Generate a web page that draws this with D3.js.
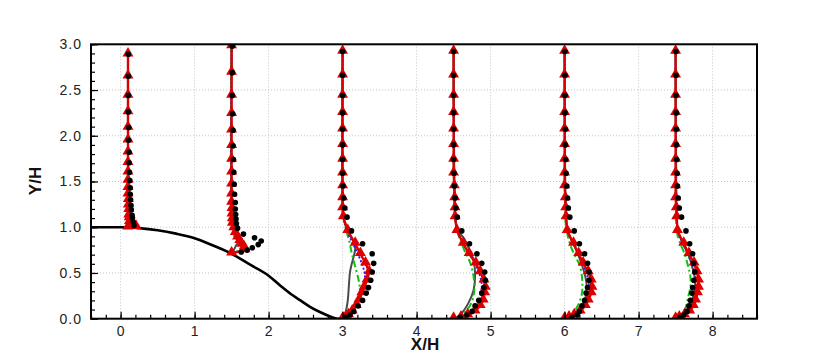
<!DOCTYPE html>
<html>
<head>
<meta charset="utf-8">
<script src="https://cdn.jsdelivr.net/npm/d3@7"></script>
<style>
	body { margin: 0; background: #fff; }
	.tick text { font-family: "Liberation Sans", Arial, sans-serif; font-size: 14px; fill: #222; letter-spacing: 1px; }
	.axlabel { font-family: "Liberation Sans", Arial, sans-serif; font-size: 17px; font-weight: bold; fill: #111; }
</style>
</head>
<body>
<script>
// Data ///////////////////////////////////////////////////////////

var stationX = [0.1, 1.5, 3, 4.5, 6, 7.5];

// hill surface
var hillX = [-0.4, 0, 0.25, 0.5, 0.75, 1.0, 1.25, 1.5, 1.75, 2.0, 2.16, 2.3, 2.43, 2.56, 2.7, 2.83, 2.93, 3.1];
var hillY = [1, 1, 0.99, 0.967, 0.93, 0.88, 0.80, 0.71, 0.59, 0.47, 0.36, 0.27, 0.20, 0.13, 0.07, 0.025, 0, 0];

// measured heights of the profile points
var yStation1 = [2.89, 2.65, 2.44, 2.26, 2.09, 1.95, 1.82, 1.705, 1.60, 1.51, 1.43, 1.36, 1.30, 1.24, 1.19, 1.13, 1.10, 1.06, 1.02, 1.005, 1.0];
var yStation2 = [2.98, 2.69, 2.44, 2.24, 2.06, 1.89, 1.74, 1.60, 1.47, 1.36, 1.27, 1.20, 1.14, 1.09, 1.04, 0.99, 0.94, 0.89, 0.85, 0.81, 0.78, 0.75, 0.715];
var yFlat = [2.92, 2.66, 2.44, 2.25, 2.07, 1.90, 1.74, 1.59, 1.45, 1.32, 1.21, 1.11, 0.96, 0.82, 0.71, 0.605, 0.51, 0.42, 0.34, 0.28, 0.20, 0.14, 0.08, 0.04, 0.015, 0];

// red solid line with triangles (offset from station)
var redY = [yStation1, yStation2, yFlat, yFlat, yFlat, yFlat];
var redDX = [
	[0,0,0,0,0,0,0,0,0,0,0,0,0.005,0.005,0.01,0.01,0.015,0.02,0.06,0.11,0],
	[0,0,0,0,0,0,0,0,0,0,0,0.005,0.005,0.01,0.01,0.03,0.05,0.08,0.11,0.14,0.17,0.18,0],
	[0,0,0,0,0,0,0,0,0,0,0,0.01,0.07,0.17,0.24,0.31,0.36,0.33,0.29,0.26,0.22,0.185,0.13,0.08,0.04,0],
	[0,0,0,0,0,0,0,0,0.01,0.015,0.02,0.02,0.045,0.13,0.21,0.30,0.36,0.41,0.43,0.42,0.40,0.36,0.29,0.19,0.10,0],
	[0,0,0,0,0,0,0,0,0,0.01,0.015,0.02,0.035,0.12,0.19,0.25,0.32,0.36,0.37,0.36,0.32,0.28,0.21,0.13,0.06,0],
	[0,0,0,0,0,0,0,0,0,0,0.01,0.015,0.025,0.11,0.18,0.25,0.29,0.31,0.31,0.295,0.27,0.24,0.19,0.12,0.05,0]
];

// black dots (reference data)
var dotY = [
	[2.89, 2.65, 2.44, 2.26, 2.09, 1.95, 1.82, 1.705, 1.60, 1.51, 1.43, 1.36, 1.30, 1.24, 1.19, 1.13, 1.10, 1.06, 1.02],
	[2.98, 2.69, 2.44, 2.24, 2.06, 1.89, 1.74, 1.60, 1.47, 1.36, 1.27, 1.20, 1.14, 1.09, 1.04, 0.99, 0.925, 0.885, 0.85, 0.81, 0.775, 0.75, 0.73],
	yFlat.slice(0, 25), yFlat.slice(0, 25), yFlat.slice(0, 25), yFlat.slice(0, 25)
];
var dotDX = [
	[0.005,0.005,0.005,0.005,0.01,0.01,0.015,0.015,0.02,0.025,0.03,0.03,0.035,0.04,0.045,0.055,0.06,0.07,0.08],
	[0.01,0.01,0.01,0.015,0.02,0.02,0.025,0.03,0.035,0.04,0.05,0.05,0.055,0.06,0.065,0.08,0.16,0.31,0.40,0.36,0.28,0.21,0.13],
	[0,0,0,0,0,0,0,0,0.005,0.015,0.03,0.06,0.12,0.27,0.40,0.42,0.40,0.38,0.35,0.32,0.27,0.21,0.15,0.10,0.04],
	[0,0,0,0,0,0,0,0.005,0.01,0.02,0.03,0.05,0.11,0.215,0.315,0.38,0.42,0.43,0.41,0.38,0.34,0.29,0.25,0.18,0.09],
	[0.005,0.005,0.005,0.005,0.01,0.01,0.015,0.02,0.03,0.04,0.05,0.07,0.13,0.20,0.27,0.31,0.33,0.33,0.31,0.29,0.27,0.235,0.20,0.17,0.10],
	[0.005,0.005,0.005,0.01,0.01,0.01,0.015,0.02,0.025,0.035,0.05,0.08,0.14,0.19,0.23,0.245,0.26,0.245,0.23,0.22,0.20,0.18,0.155,0.11,0.06]
];

// other models: [y, offset] per station
var greyLine = [
	[[2.89,0],[1.3,0.005],[1.1,0.015],[1.02,0.05],[1.0,0]],
	[[2.98,0],[1.1,0.005],[1.0,0.02],[0.90,0.04],[0.84,0.09],[0.80,0.06],[0.75,0.03],[0.715,0]],
	[[2.92,0],[1.21,0],[1.11,0.01],[0.96,0.07],[0.82,0.16],[0.76,0.17],[0.68,0.15],[0.605,0.125],[0.51,0.10],[0.42,0.09],[0.30,0.08],[0.20,0.07],[0.10,0.05],[0.03,0.03],[0,0]],
	[[2.92,0],[1.45,0.01],[1.11,0.02],[0.96,0.06],[0.88,0.14],[0.76,0.21],[0.64,0.27],[0.46,0.29],[0.31,0.27],[0.17,0.20],[0.06,0.11],[0,0.02]],
	[[2.92,0],[1.32,0.01],[1.11,0.02],[0.96,0.04],[0.80,0.13],[0.62,0.22],[0.46,0.28],[0.33,0.30],[0.20,0.27],[0.09,0.19],[0.02,0.07],[0,0]],
	[[2.92,0],[1.21,0.01],[1.11,0.015],[0.96,0.03],[0.82,0.10],[0.68,0.18],[0.55,0.23],[0.44,0.26],[0.32,0.26],[0.20,0.22],[0.09,0.15],[0.02,0.05],[0,0]]
];
var greenLine = [
	[[2.89,0],[1.3,0.005],[1.1,0.015],[1.02,0.05],[1.0,0]],
	[[2.98,0],[1.1,0.005],[1.0,0.03],[0.90,0.07],[0.82,0.12],[0.77,0.15],[0.715,0]],
	[[2.92,0],[1.21,0],[1.11,0.01],[0.96,0.05],[0.85,0.09],[0.73,0.12],[0.60,0.16],[0.48,0.20],[0.36,0.23],[0.26,0.23],[0.15,0.19],[0.06,0.12],[0.02,0.05],[0,0]],
	[[2.92,0],[1.45,0.01],[1.11,0.02],[0.96,0.05],[0.86,0.09],[0.74,0.15],[0.62,0.22],[0.46,0.27],[0.31,0.28],[0.17,0.24],[0.07,0.15],[0.02,0.06],[0,0]],
	[[2.92,0],[1.32,0.01],[1.0,0.02],[0.80,0.08],[0.68,0.145],[0.57,0.21],[0.40,0.24],[0.26,0.23],[0.13,0.17],[0.05,0.10],[0,0]],
	[[2.92,0],[1.21,0.01],[1.0,0.01],[0.93,0.02],[0.82,0.065],[0.70,0.125],[0.57,0.17],[0.46,0.20],[0.35,0.20],[0.24,0.17],[0.10,0.125],[0.03,0.06],[0,0]]
];
var blueLine = [
	[[2.89,0],[1.3,0.005],[1.1,0.015],[1.02,0.05],[1.0,0]],
	[[2.98,0],[1.1,0.005],[1.0,0.03],[0.90,0.075],[0.82,0.13],[0.77,0.17],[0.715,0]],
	[[2.92,0],[1.21,0],[1.11,0.01],[0.96,0.06],[0.82,0.14],[0.70,0.21],[0.58,0.27],[0.48,0.30],[0.36,0.29],[0.25,0.25],[0.14,0.18],[0.06,0.11],[0.01,0.03],[0,0]],
	[[2.92,0],[1.45,0.01],[1.11,0.02],[0.96,0.05],[0.80,0.15],[0.62,0.28],[0.46,0.36],[0.33,0.38],[0.20,0.35],[0.09,0.25],[0.02,0.09],[0,0]],
	[[2.92,0],[1.32,0.01],[1.11,0.02],[0.96,0.04],[0.80,0.14],[0.62,0.24],[0.46,0.31],[0.33,0.33],[0.20,0.29],[0.09,0.20],[0.02,0.07],[0,0]],
	[[2.92,0],[1.21,0.01],[1.11,0.015],[0.96,0.03],[0.82,0.10],[0.68,0.18],[0.55,0.24],[0.44,0.27],[0.32,0.27],[0.20,0.23],[0.09,0.16],[0.02,0.06],[0,0]]
];

var xTicks = [0, 1, 2, 3, 4, 5, 6, 7, 8];
var yTicks = [0, 0.5, 1, 1.5, 2, 2.5, 3];

// SVG + Graph Setup //////////////////////////////////////////////

var margin = {top: 44.3, right: 73, bottom: 41.3, left: 91};
var width = 830 - margin.left - margin.right;
var height = 360 - margin.top - margin.bottom;

var svg = d3.select("body")
			.append("svg")
				.attr("width", 830)
				.attr("height", 360)
			.append("g")
				.attr("transform", "translate(" + margin.left + "," + margin.top + ")");

var xScale = d3.scaleLinear().domain([-0.4, 8.6]).range([0, width]);
var yScale = d3.scaleLinear().domain([0, 3]).range([height, 0]);

svg.append("clipPath").attr("id", "plotclip")
	.append("rect").attr("width", width).attr("height", height);

// dotted grid
var grid = svg.append("g").attr("stroke", "#c4c4c4").attr("stroke-width", 1).attr("stroke-dasharray", "1,2");
grid.selectAll(".gx").data(xTicks).enter().append("line")
	.attr("x1", function(d){ return xScale(d); }).attr("x2", function(d){ return xScale(d); })
	.attr("y1", 0).attr("y2", height);
grid.selectAll(".gy").data(yTicks.slice(1, -1)).enter().append("line")
	.attr("x1", 0).attr("x2", width)
	.attr("y1", function(d){ return yScale(d); }).attr("y2", function(d){ return yScale(d); });

var plot = svg.append("g").attr("clip-path", "url(#plotclip)");

// hill
var hill = hillX.map(function(d, i){ return [d, hillY[i]]; });
plot.append("path")
	.datum(hill)
	.attr("fill", "none")
	.attr("stroke", "#000")
	.attr("stroke-width", 2.6)
	.attr("d", d3.line().curve(d3.curveMonotoneX)
		.x(function(d){ return xScale(d[0]); })
		.y(function(d){ return yScale(d[1]); }));

// profile lines
function drawModel(lines, color, widthPx, dash)
{
	lines.forEach(function(pts, s)
	{
		plot.append("path")
			.datum(pts)
			.attr("fill", "none")
			.attr("stroke", color)
			.attr("stroke-width", widthPx)
			.attr("stroke-dasharray", dash)
			.attr("d", d3.line().curve(d3.curveCatmullRom)
				.x(function(d){ return xScale(stationX[s] + d[1]); })
				.y(function(d){ return yScale(d[0]); }));
	});
}

drawModel(greyLine, "#4a4a4a", 2, null);
drawModel(greenLine, "#10c010", 2, "7,3,2,3");
drawModel(blueLine, "#1a1aff", 1.8, "2,2");

// red line + triangles
var triangle = d3.symbol().type(d3.symbolTriangle).size(52);
redY.forEach(function(ys, s)
{
	var pts = ys.map(function(y, i){ return [stationX[s] + redDX[s][i], y]; });
	plot.append("path")
		.datum(pts)
		.attr("fill", "none")
		.attr("stroke", "#dd0000")
		.attr("stroke-width", 2.4)
		.attr("d", d3.line()
			.x(function(d){ return xScale(d[0]); })
			.y(function(d){ return yScale(d[1]); }));
	plot.selectAll(".tri" + s).data(pts).enter().append("path")
		.attr("d", triangle)
		.attr("fill", "#dd0000")
		.attr("transform", function(d){ return "translate(" + xScale(d[0]) + "," + (yScale(d[1]) - 1) + ")"; });
});

// black dots
dotY.forEach(function(ys, s)
{
	plot.selectAll(".dot" + s).data(ys).enter().append("circle")
		.attr("cx", function(d, i){ return xScale(stationX[s] + dotDX[s][i]); })
		.attr("cy", function(d){ return yScale(d); })
		.attr("r", 2.8)
		.attr("fill", "#000");
});

// axes: ticks pointing inwards
var minorX = d3.range(-0.4, 8.61, 0.2).map(function(d){ return +d.toFixed(1); });
var minorY = d3.range(0, 3.01, 0.1).map(function(d){ return +d.toFixed(1); });

svg.append("g").attr("transform", "translate(0," + height + ")")
	.call(d3.axisTop(xScale).tickValues(minorX).tickSize(4).tickFormat(""));
svg.append("g").attr("transform", "translate(0," + height + ")")
	.call(d3.axisTop(xScale).tickValues(xTicks).tickSize(7).tickFormat(""));
svg.append("g").attr("transform", "translate(0," + height + ")")
	.call(d3.axisBottom(xScale).tickValues(xTicks).tickSize(0).tickPadding(7).tickFormat(d3.format("d")));

svg.append("g")
	.call(d3.axisRight(yScale).tickValues(minorY).tickSize(4).tickFormat(""));
svg.append("g")
	.call(d3.axisRight(yScale).tickValues(yTicks).tickSize(7).tickFormat(""));
svg.append("g")
	.call(d3.axisLeft(yScale).tickValues(yTicks).tickSize(0).tickPadding(9).tickFormat(d3.format(".1f")));

svg.selectAll(".domain").remove();
svg.selectAll(".tick line").attr("stroke", "#000").attr("stroke-width", 1.2);

// frame
svg.append("rect")
	.attr("width", width)
	.attr("height", height)
	.attr("fill", "none")
	.attr("stroke", "#000")
	.attr("stroke-width", 2);

// axis titles
svg.append("text")
	.attr("class", "axlabel")
	.attr("x", 425 - margin.left)
	.attr("y", 350 - margin.top)
	.attr("text-anchor", "middle")
	.text("X/H");

svg.append("text")
	.attr("class", "axlabel")
	.attr("transform", "translate(" + (41 - margin.left) + "," + (181 - margin.top) + ") rotate(-90)")
	.attr("text-anchor", "middle")
	.text("Y/H");
</script>
</body>
</html>
